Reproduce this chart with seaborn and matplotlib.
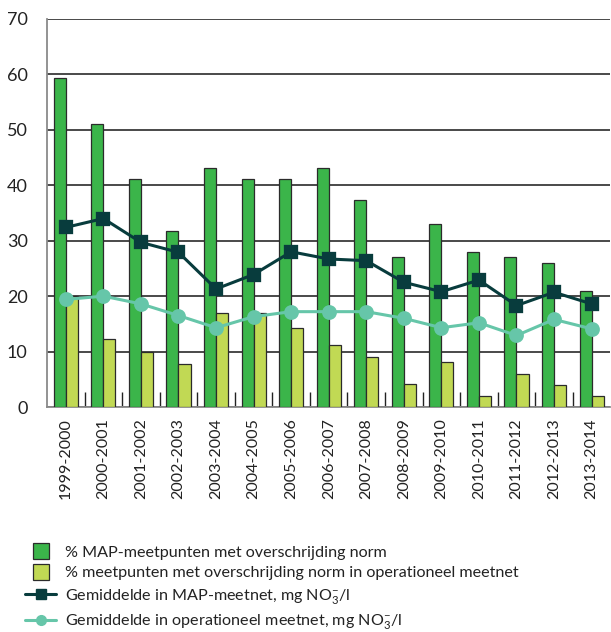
import numpy as np
import pandas as pd
import seaborn as sns
from matplotlib import pyplot as plt
from matplotlib.lines import Line2D

periodes = ["1999-2000", "2000-2001", "2001-2002", "2002-2003", "2003-2004",
            "2004-2005", "2005-2006", "2006-2007", "2007-2008", "2008-2009",
            "2009-2010", "2010-2011", "2011-2012", "2012-2013", "2013-2014"]
pct_map = [59.3, 51.1, 41.2, 31.8, 43.1, 41.2, 41.2, 43.1, 37.3, 27.1,
           33.0, 27.9, 27.1, 25.9, 20.9]
pct_oper = [20.1, 12.2, 10.0, 7.8, 17.0, 17.0, 14.2, 11.2, 9.0, 4.2,
            8.2, 2.0, 6.0, 4.0, 2.0]
gem_map = [32.4, 34.0, 29.7, 27.9, 21.3, 23.9, 28.0, 26.7, 26.4, 22.5,
           20.8, 22.9, 18.3, 20.7, 18.6]
gem_oper = [19.4, 20.0, 18.6, 16.5, 14.3, 16.3, 17.2, 17.2, 17.2, 16.0,
            14.3, 15.2, 12.9, 15.8, 14.1]

lbl_map = "% MAP-meetpunten met overschrijding norm"
lbl_oper = "% meetpunten met overschrijding norm in operationeel meetnet"
lbl_gmap = r"Gemiddelde in MAP-meetnet, mg NO$_3^{-}$/l"
lbl_goper = r"Gemiddelde in operationeel meetnet, mg NO$_3^{-}$/l"

c_map = "#3bb54a"
c_oper = "#c1d954"
c_gmap = "#083c3d"
c_goper = "#66c6a9"

sns.set_style("white")
plt.rcParams['font.family'] = ['Lato', 'DejaVu Sans']
plt.rcParams['mathtext.fontset'] = 'custom'
plt.rcParams['mathtext.rm'] = 'Lato'
plt.rcParams['mathtext.it'] = 'Lato'

bars = pd.DataFrame({"periode": periodes * 2,
                     "waarde": pct_map + pct_oper,
                     "reeks": [lbl_map] * 15 + [lbl_oper] * 15})
lines = pd.DataFrame({"periode": periodes, "gmap": gem_map, "goper": gem_oper})

fig = plt.figure(figsize=(6.11, 6.32), dpi=100)
ax = fig.add_axes([0.077, 0.356, 0.922, 0.614])

sns.barplot(data=bars, x="periode", y="waarde", hue="reeks",
            palette=[c_map, c_oper], width=0.64, gap=0, saturation=1,
            edgecolor="#2b2b2b", linewidth=0.9, legend=False, ax=ax, zorder=3)
sns.pointplot(data=lines, x="periode", y="gmap", color=c_gmap, markers="s",
              markersize=9, linewidth=2.2, ax=ax)
sns.pointplot(data=lines, x="periode", y="goper", color=c_goper, markers="o",
              markersize=9, linewidth=2.2, ax=ax)
for ln in ax.lines:
    ln.set_zorder(5)

ax.set_ylim(0, 70)
ax.set_xlim(-0.5, 14.5)
ax.set_yticks(range(0, 71, 10))
ax.yaxis.grid(True, color="#3a3a3a", linewidth=1.3, zorder=0)
ax.set_axisbelow(True)
ax.set_xlabel("")
ax.set_ylabel("")
for s in ["top", "right"]:
    ax.spines[s].set_visible(False)
ax.spines["left"].set_color("#8a8a8a")
ax.spines["bottom"].set_color("#8a8a8a")
ax.spines["left"].set_linewidth(1.3)
ax.spines["bottom"].set_linewidth(1.3)

ax.tick_params(axis="y", length=0, pad=14, labelsize=13, labelcolor="#222222")
ax.tick_params(axis="x", length=0, pad=8, labelsize=11.5, labelcolor="#222222",
               labelrotation=90)
ax.set_xticks(np.arange(0.5, 14.5, 1.0), minor=True)
ax.tick_params(axis="x", which="minor", bottom=True, direction="in", length=11,
               width=1.0, color="#222222")

handles = [Line2D([], [], linestyle="none", marker="s", markersize=11,
                  markerfacecolor=c_map, markeredgecolor="#2b2b2b", markeredgewidth=0.9),
           Line2D([], [], linestyle="none", marker="s", markersize=11,
                  markerfacecolor=c_oper, markeredgecolor="#2b2b2b", markeredgewidth=0.9),
           Line2D([], [], color=c_gmap, marker="s", markersize=7, linewidth=2.2),
           Line2D([], [], color=c_goper, marker="o", markersize=7, linewidth=2.2)]
fig.legend(handles, [lbl_map, lbl_oper, lbl_gmap, lbl_goper],
           loc="upper left", bbox_to_anchor=(0.018, 0.16), frameon=False,
           fontsize=11.6, handlelength=1.9, handletextpad=0.55,
           labelspacing=0.4, labelcolor="#222222")

fig.savefig("out.png", dpi=100)
